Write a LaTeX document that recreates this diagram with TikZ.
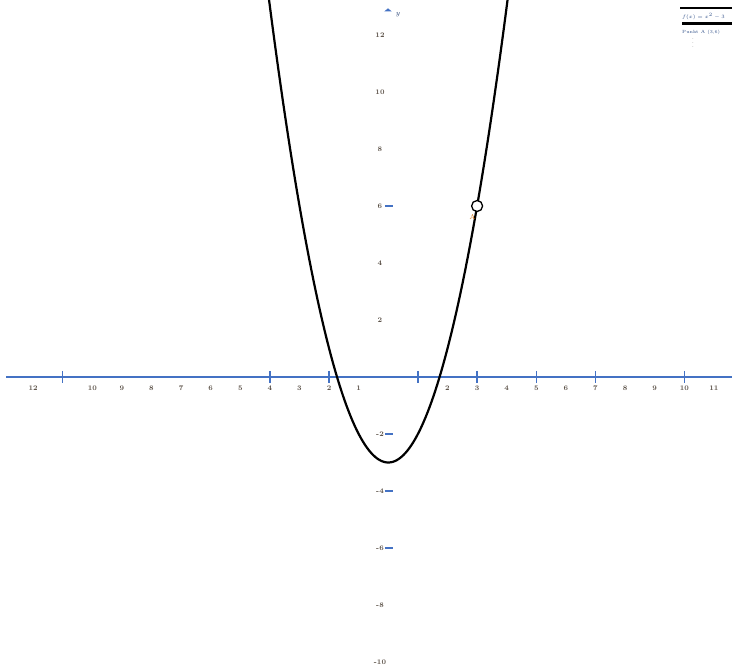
\documentclass[tikz,border=0pt]{standalone}
\usepackage{tikz}
\usetikzlibrary{arrows.meta,shapes.geometric}
\definecolor{axisblue}{RGB}{68,114,196}
\definecolor{lblcol}{RGB}{90,80,70}
\tikzset{
  axisline/.style={draw=axisblue,line width=1.8pt},
  tickmark/.style={draw=axisblue,line width=1.4pt},
  numlbl/.style={font=\fontsize{7}{7}\selectfont\bfseries,text=lblcol,inner sep=0pt},
  curve/.style={draw=black,line width=2.2pt},
  legtxt/.style={font=\fontsize{4.5}{4.5}\selectfont,text=axisblue!70!black,inner sep=0pt,anchor=west}
}
\begin{document}
\begin{tikzpicture}[x=1pt,y=-1pt]
\useasboundingbox[fill=white] (0,0) rectangle (732,671);
% x axis
\coordinate (xa) at (6,377);
\coordinate (xb) at (732,377);
\draw[axisline] (xa) -- (xb);
\foreach \t in {-11,-4,-2,1,3,5,7,10}{
  \draw[tickmark] ({388.3+29.6*\t},371) -- ({388.3+29.6*\t},383);
}
\foreach \t in {-12,-10,-9,-8,-7,-6,-5,-4,-3,-2,-1,2,3,4,5,6,7,8,9,10,11}{
  \node[numlbl] (xl\t) at ({388.3+29.6*\t},388) {\pgfmathtruncatemacro\a{abs(\t)}\a};
}
% y axis: arrow head and ticks
\node[fill=axisblue,isosceles triangle,isosceles triangle apex angle=100,shape border rotate=90,inner sep=0pt,minimum width=7pt,minimum height=3pt] (yarrow) at (388,10) {};
\node[numlbl,text=axisblue!60!black] (ylab) at (398,15) {$y$};
\foreach \t in {6,-2,-4,-6}{
  \draw[tickmark,line width=1.2pt] (385,{377-28.5*\t}) -- (393,{377-28.5*\t});
}
\foreach \t in {12,10,8,6,4,2,-2,-4,-6,-8,-10}{
  \node[numlbl] (yl\t) at (380,{377-28.5*\t}) {\t};
}
% parabola y = x^2 - 3
\begin{scope}[x=29.6pt,y=28.5pt,shift={(388.3pt,-377pt)}]
  \draw[curve,smooth,samples=120,domain=-4.03:4.03] plot (\x,{\x*\x-3});
  \node[circle,draw=black,fill=white,line width=1.3pt,minimum size=11pt,inner sep=0pt] (A) at (3,6) {};
  \node[font=\fontsize{7}{7}\selectfont,text=orange!80!black,inner sep=0pt] (Alab) at (2.85,5.62) {A};
\end{scope}
% legend
\coordinate (l1a) at (680,8);
\coordinate (l1b) at (732,8);
\draw[black,line width=1.2pt] (l1a) -- (l1b);
\node[legtxt] (leg1) at (682,17) {$f(x)=x^2-3$};
\coordinate (l2a) at (682,24);
\coordinate (l2b) at (732,24);
\draw[black,line width=3pt] (l2a) -- (l2b);
\node[legtxt] (leg2) at (682,32) {Punkt A (3,6)};
\node[legtxt,text=black] (leg3) at (692,40) {$\vdots$};
\end{tikzpicture}
\end{document}
